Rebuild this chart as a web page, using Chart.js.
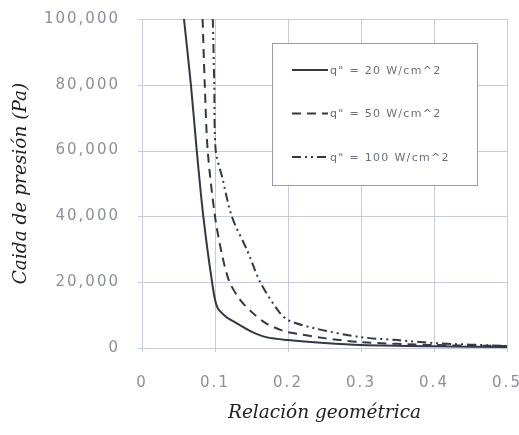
<!DOCTYPE html>
<html>
<head>
<meta charset="utf-8">
<script src="https://cdn.jsdelivr.net/npm/chart.js@4.4.1/dist/chart.umd.min.js"></script>
<style>
html,body{margin:0;padding:0;background:#fff;}
</style>
</head>
<body>
<canvas id="c" width="519" height="435"></canvas>
<script>
// Data
const seriesLabels = ['q" = 20 W/cm^2', 'q" = 50 W/cm^2', 'q" = 100 W/cm^2'];
const q20x = [0.0575, 0.067, 0.075, 0.084, 0.096, 0.103, 0.115, 0.13, 0.15, 0.17, 0.2, 0.25, 0.3, 0.4, 0.5];
const q20y = [100000, 80000, 60000, 40000, 20000, 12400, 9500, 7500, 5000, 3300, 2400, 1500, 900, 500, 300];
const q50x = [0.083, 0.086, 0.09, 0.1, 0.11, 0.12, 0.135, 0.152, 0.17, 0.193, 0.2, 0.25, 0.3, 0.4, 0.5];
const q50y = [100000, 80000, 60000, 40000, 28000, 20000, 14500, 10600, 7500, 5200, 4800, 3000, 1800, 900, 600];
const q100x = [0.097, 0.099, 0.101, 0.11, 0.123, 0.144, 0.162, 0.186, 0.2, 0.24, 0.3, 0.35, 0.4, 0.5];
const q100y = [100000, 80000, 60000, 51800, 40000, 29700, 20000, 11500, 8500, 5800, 3300, 2400, 1500, 600];
const xTicks = [0, 0.1, 0.2, 0.3, 0.4, 0.5];
const xTickLabels = ['0', '0.1', '0.2', '0.3', '0.4', '0.5'];
const yTicks = [0, 20000, 40000, 60000, 80000, 100000];
const yTickLabels = ['0', '20,000', '40,000', '60,000', '80,000', '100,000'];

function pts(xs, ys){ return xs.map((x,i)=>({x:x, y:ys[i]})); }

const lineColor = '#343845';
const gridColor = '#c7cadc';

// axis titles without the wide letter spacing used for tick labels
const origDrawTitle = Chart.Scale.prototype.drawTitle;
Chart.Scale.prototype.drawTitle = function(){
  const c = this.ctx; const ls = c.letterSpacing;
  c.letterSpacing = '0px';
  origDrawTitle.apply(this, arguments);
  c.letterSpacing = ls;
};

const spacingPlugin = {
  id: 'spacing',
  beforeInit(chart){ chart.ctx.letterSpacing = '2px'; },
  beforeUpdate(chart){ chart.ctx.letterSpacing = '2px'; },
  beforeDraw(chart){ chart.ctx.letterSpacing = '2px'; }
};

// grid lines placed from the scales' own ticks (1px filled rules)
const gridPlugin = {
  id: 'gridLines',
  beforeDatasetsDraw(chart){
    const ctx = chart.ctx, a = chart.chartArea;
    const sx = chart.scales.x, sy = chart.scales.y;
    ctx.save();
    ctx.globalAlpha = 1;
    ctx.globalCompositeOperation = 'source-over';
    ctx.fillStyle = gridColor;
    sx.ticks.forEach(t => {
      const px = Math.round(sx.getPixelForValue(t.value));
      ctx.fillRect(px, a.top, 1, (a.bottom - a.top) + 4);
    });
    sy.ticks.forEach(t => {
      const py = Math.round(sy.getPixelForValue(t.value));
      ctx.fillRect(a.left - 4, py, (a.right - a.left) + 4, 1);
    });
    ctx.restore();
  }
};

const legendPlugin = {
  id: 'boxLegend',
  afterDraw(chart){
    const ctx = chart.ctx, a = chart.chartArea;
    const bx = a.left + 130, by = a.top + 24, bw = 205, bh = 142;
    ctx.save();
    ctx.fillStyle = '#fff';
    ctx.fillRect(bx, by, bw, bh);
    ctx.strokeStyle = '#9a9cab';
    ctx.lineWidth = 1;
    ctx.strokeRect(bx+0.5, by+0.5, bw, bh);
    chart.data.datasets.forEach((ds, i) => {
      const yy = by + 27 + i*43.5;
      ctx.beginPath();
      ctx.setLineDash(ds.borderDash || []);
      ctx.strokeStyle = ds.borderColor;
      ctx.lineWidth = ds.borderWidth;
      ctx.moveTo(bx + 20, yy);
      ctx.lineTo(bx + 56, yy);
      ctx.stroke();
      ctx.setLineDash([]);
      ctx.fillStyle = '#6a6e79';
      ctx.letterSpacing = '1.3px';
      ctx.font = '11px "DejaVu Sans", sans-serif';
      ctx.textBaseline = 'middle';
      ctx.textAlign = 'left';
      ctx.fillText(ds.label, bx + 58, yy + 1);
    });
    ctx.restore();
  }
};

new Chart(document.getElementById('c'), {
  type: 'scatter',
  data: {
    datasets: [
      {label: seriesLabels[0], data: pts(q20x, q20y), showLine: true, borderColor: lineColor, borderWidth: 2, pointRadius: 0, tension: 0.3, fill: false},
      {label: seriesLabels[1], data: pts(q50x, q50y), showLine: true, borderColor: lineColor, borderWidth: 2, borderDash: [9, 6], pointRadius: 0, tension: 0.3, fill: false},
      {label: seriesLabels[2], data: pts(q100x, q100y), showLine: true, borderColor: lineColor, borderWidth: 2, borderDash: [9, 4, 2, 4, 2, 4], pointRadius: 0, tension: 0.3, fill: false}
    ]
  },
  options: {
    responsive: false,
    animation: false,
    layout: {padding: {left: 0, right: 12, top: 19, bottom: 11}},
    plugins: {legend: {display: false}, tooltip: {enabled: false}},
    scales: {
      x: {
        type: 'linear', min: 0, max: 0.5,
        afterBuildTicks(s){ s.ticks = xTicks.map(v=>({value:v})); },
        afterFit(s){ s.height = 76; s.paddingLeft = 0; s.paddingRight = 0; },
        ticks: {
          callback(v){ const i = xTicks.indexOf(v); return i>=0 ? xTickLabels[i] : ''; },
          color: '#8d8f99', font: {family: '"DejaVu Sans", sans-serif', size: 15}, padding: 22, maxRotation: 0
        },
        grid: {display: false, tickLength: 4, drawTicks: true},
        border: {color: gridColor},
        title: {display: true, text: 'Relación geométrica', color: '#222', font: {family: '"DejaVu Serif", serif', style: 'italic', size: 18.5}, padding: {top: 4, bottom: 0}}
      },
      y: {
        type: 'linear', min: 0, max: 100000,
        afterBuildTicks(s){ s.ticks = yTicks.map(v=>({value:v})); },
        afterFit(s){ s.width = 142; s.paddingTop = 0; s.paddingBottom = 0; },
        ticks: {
          callback(v){ const i = yTicks.indexOf(v); return i>=0 ? yTickLabels[i] : ''; },
          color: '#8d8f99', font: {family: '"DejaVu Sans", sans-serif', size: 15}, padding: 18
        },
        grid: {display: false, tickLength: 4, drawTicks: true},
        border: {color: gridColor},
        title: {display: true, text: 'Caida de presión (Pa)', color: '#222', font: {family: '"DejaVu Serif", serif', style: 'italic', size: 18.5}, padding: {top: 10, bottom: 0}}
      }
    }
  },
  plugins: [spacingPlugin, gridPlugin, legendPlugin]
});
</script>
</body>
</html>
